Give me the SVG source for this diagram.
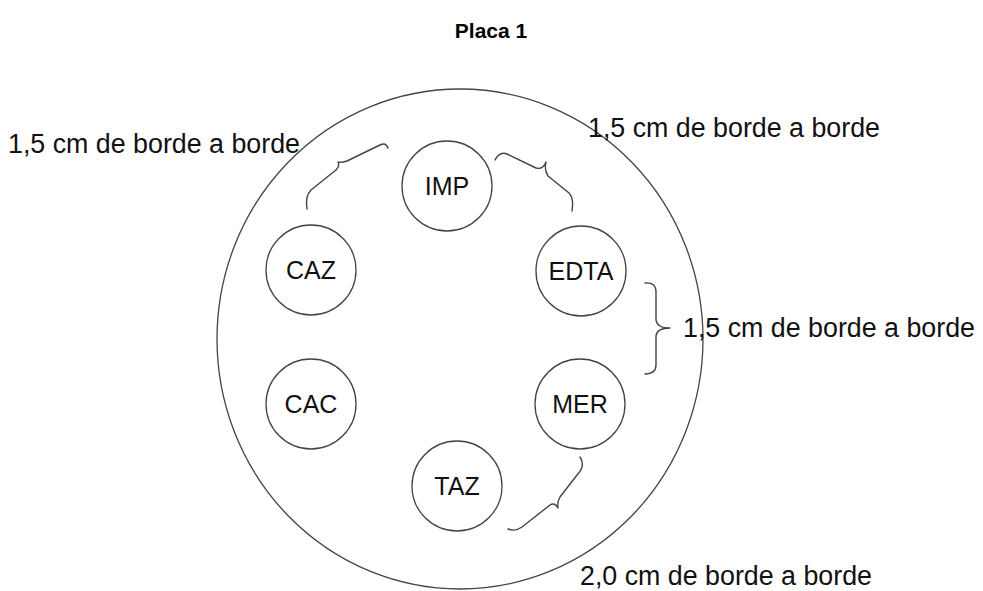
<svg xmlns="http://www.w3.org/2000/svg" width="983" height="591" viewBox="0 0 983 591">
<style>
.bg{fill:#fff}
.plate{fill:none;stroke:#444;stroke-width:1.3}
.well{fill:#fff;stroke:#444;stroke-width:1.3}
.brace{fill:none;stroke:#444;stroke-width:1.4;stroke-linejoin:round;stroke-linecap:round}
.lbl{font-family:"Liberation Sans",Arial,sans-serif;font-size:25px;fill:#111;text-anchor:middle}
.note{font-family:"Liberation Sans",Arial,sans-serif;font-size:26.8px;fill:#111}
.title{font-family:"Liberation Sans",Arial,sans-serif;font-size:21px;font-weight:bold;fill:#000;text-anchor:middle}
</style>
<rect class="bg" x="0" y="0" width="983" height="591"/>
<text class="title" x="491" y="38">Placa 1</text>
<g id="plate"><ellipse class="plate" cx="460" cy="339" rx="243" ry="250"/></g>
<g id="IMP"><circle class="well" cx="447" cy="186" r="45"/><text class="lbl" x="447" y="195">IMP</text></g>
<g id="CAZ"><circle class="well" cx="311" cy="270" r="45"/><text class="lbl" x="311" y="279">CAZ</text></g>
<g id="EDTA"><circle class="well" cx="581" cy="271" r="45"/><text class="lbl" x="581" y="280">EDTA</text></g>
<g id="CAC"><circle class="well" cx="311" cy="404" r="45"/><text class="lbl" x="311" y="413">CAC</text></g>
<g id="MER"><circle class="well" cx="580" cy="404" r="45"/><text class="lbl" x="580" y="413">MER</text></g>
<g id="TAZ"><circle class="well" cx="457" cy="486" r="45"/><text class="lbl" x="457" y="495">TAZ</text></g>
<g id="connectors">
<path class="brace" d="M388,148 Q386,142 380,145 L347,161 Q341,163 338,162 Q340,166 336,170 L311,190 Q305,196 307,209"/>
<path class="brace" d="M495,160 Q500,151 507,154 L536,168 Q543,170 546,162 Q544,170 548,176 L569,193 Q574,198 572,211"/>
<path class="brace" d="M645,283 Q656,282 656,292 L656,320 Q657,328 670,328 Q657,328 656,336 L656,365 Q656,374 645,374"/>
<path class="brace" d="M580,457 Q586,466 577,475 L560,497 Q557,502 558,508 Q555,502 550,505 L522,527 Q515,532 508,529"/>
</g>
<g id="labels">
<text class="note" x="8" y="153">1,5 cm de borde a borde</text>
<text class="note" x="588" y="137">1,5 cm de borde a borde</text>
<text class="note" x="683" y="337">1,5 cm de borde a borde</text>
<text class="note" x="580" y="585">2,0 cm de borde a borde</text>
</g>
</svg>
